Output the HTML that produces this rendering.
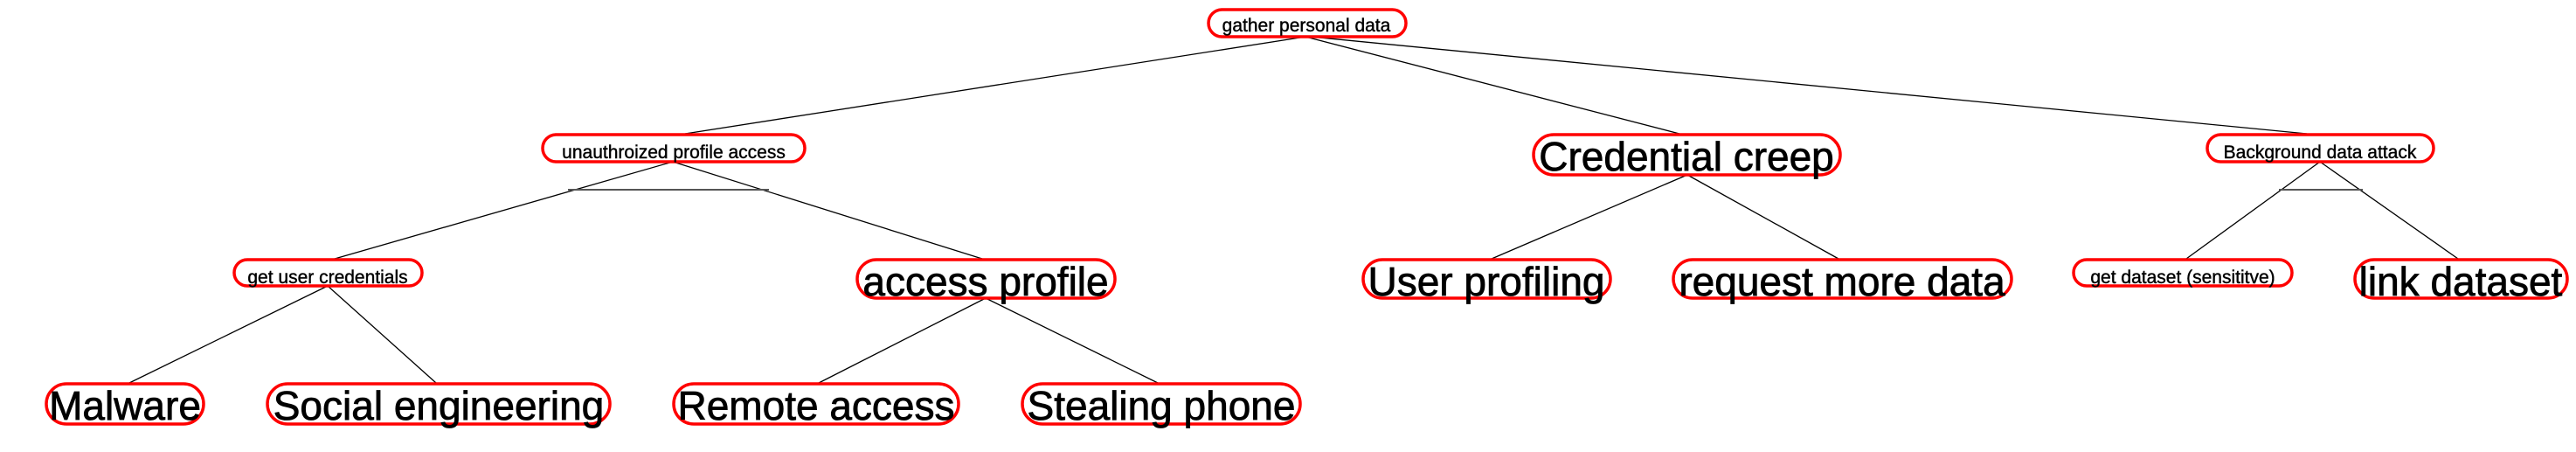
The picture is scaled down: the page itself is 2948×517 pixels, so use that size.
<!DOCTYPE html>
<html><head><meta charset="utf-8"><style>html,body{margin:0;padding:0;background:#fff}svg{display:block}</style></head>
<body>
<svg width="2948" height="517" viewBox="0 0 2948 517" xmlns="http://www.w3.org/2000/svg">
<g stroke="#000" stroke-width="1.3" fill="none">
<line x1="1494" y1="42" x2="784" y2="153"/>
<line x1="1494" y1="42" x2="1922" y2="153"/>
<line x1="1500" y1="42" x2="2640" y2="153"/>
<line x1="770" y1="185" x2="383" y2="296"/>
<line x1="770" y1="185" x2="1124" y2="296"/>
<line x1="650" y1="217" x2="880" y2="217" stroke="#555" stroke-width="2"/>
<line x1="375" y1="327" x2="148" y2="438"/>
<line x1="375" y1="327" x2="499" y2="438"/>
<line x1="1128" y1="341" x2="937" y2="438"/>
<line x1="1128" y1="341" x2="1325" y2="438"/>
<line x1="1931" y1="200" x2="1707" y2="296"/>
<line x1="1931" y1="200" x2="2104" y2="296"/>
<line x1="2655" y1="185" x2="2502" y2="296"/>
<line x1="2655" y1="185" x2="2813" y2="296"/>
<line x1="2608" y1="217" x2="2704" y2="217" stroke="#555" stroke-width="2"/>
</g>
<g stroke="#f00" stroke-width="3.5" fill="#fff">
<rect x="1383" y="11" width="226" height="31" rx="15.5"/>
<rect x="621" y="154" width="300" height="31" rx="15.5"/>
<rect x="1755" y="154" width="351" height="46" rx="23"/>
<rect x="2526" y="154" width="259" height="31" rx="15.5"/>
<rect x="268" y="297" width="215" height="30" rx="15"/>
<rect x="981" y="297" width="295" height="44" rx="22"/>
<rect x="1560" y="297" width="283" height="44" rx="22"/>
<rect x="1915" y="297" width="387" height="44" rx="22"/>
<rect x="2373" y="297" width="250" height="30" rx="15"/>
<rect x="2695" y="297" width="243" height="44" rx="22"/>
<rect x="53" y="439" width="180" height="46" rx="23"/>
<rect x="306" y="439" width="392" height="46" rx="23"/>
<rect x="771" y="439" width="326" height="46" rx="23"/>
<rect x="1170" y="439" width="318" height="46" rx="23"/>
</g>
<g font-family="Liberation Sans, sans-serif" fill="#000" stroke="#000" text-anchor="middle">
<g font-size="21" stroke-width="0.4">
<text x="1495" y="36">gather personal data</text>
<text x="771" y="181">unauthroized profile access</text>
<text x="2655" y="181">Background data attack</text>
<text x="375" y="324">get user credentials</text>
<text x="2498" y="324">get dataset (sensititve)</text>
</g>
<g font-size="46" stroke-width="0.8">
<text x="1930" y="195">Credential creep</text>
<text x="1128" y="338">access profile</text>
<text x="1701" y="338">User profiling</text>
<text x="2108" y="338">request more data</text>
<text x="2816" y="338">link dataset</text>
<text x="143" y="480">Malware</text>
<text x="502" y="480">Social engineering</text>
<text x="934" y="480">Remote access</text>
<text x="1329" y="480">Stealing phone</text>
</g>
</g>
</svg>
</body></html>
